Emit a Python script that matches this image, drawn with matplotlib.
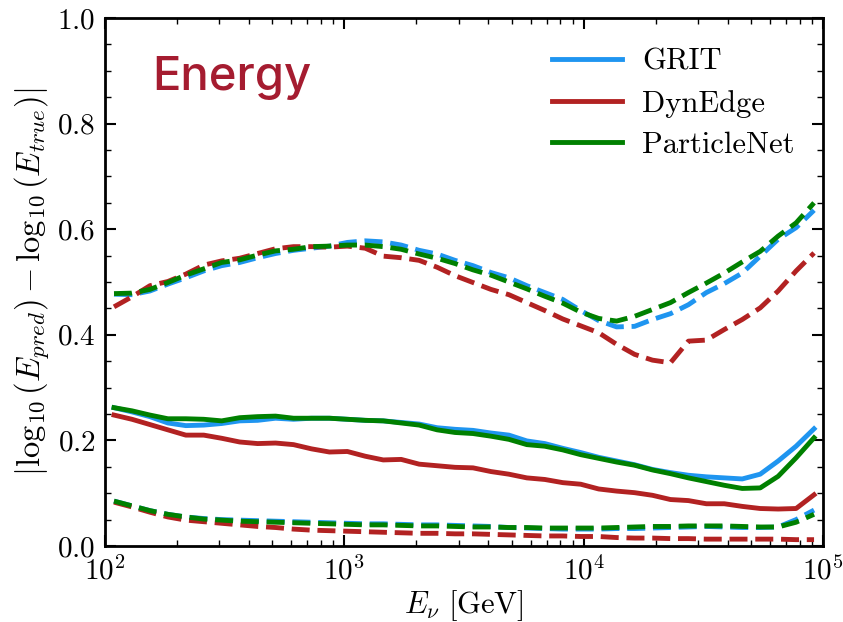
import numpy as np
import matplotlib
matplotlib.use("Agg")
import matplotlib.pyplot as plt

plt.rcParams.update({
    "font.family": "serif",
    "font.serif": ["cmr10"],
    "mathtext.fontset": "cm",
    "axes.formatter.use_mathtext": True,
    "axes.unicode_minus": False,
})

# log10(E/GeV) bins: 40 equal-width bins from 10^2 to 10^5
bin_edges = np.linspace(2.0, 5.0, 41)
log_e = 0.5 * (bin_edges[:-1] + bin_edges[1:])
energy = 10 ** log_e

# Median resolution (solid) per model
grit_med = [0.262, 0.254, 0.245, 0.233, 0.228, 0.229, 0.232, 0.237, 0.238, 0.242,
            0.240, 0.242, 0.242, 0.240, 0.238, 0.237, 0.234, 0.231, 0.224, 0.221,
            0.219, 0.214, 0.210, 0.199, 0.194, 0.185, 0.177, 0.168, 0.161, 0.154,
            0.145, 0.139, 0.134, 0.131, 0.129, 0.127, 0.136, 0.161, 0.189, 0.222]
dyn_med = [0.248, 0.240, 0.230, 0.220, 0.210, 0.210, 0.204, 0.197, 0.194, 0.195,
           0.192, 0.184, 0.178, 0.179, 0.170, 0.163, 0.164, 0.155, 0.152, 0.149,
           0.148, 0.141, 0.136, 0.129, 0.126, 0.120, 0.117, 0.108, 0.104, 0.101,
           0.096, 0.088, 0.086, 0.080, 0.080, 0.075, 0.071, 0.070, 0.071, 0.097]
pn_med = [0.262, 0.256, 0.248, 0.241, 0.241, 0.240, 0.237, 0.243, 0.245, 0.246,
          0.242, 0.242, 0.242, 0.240, 0.238, 0.237, 0.233, 0.229, 0.220, 0.215,
          0.213, 0.208, 0.202, 0.192, 0.189, 0.182, 0.173, 0.166, 0.159, 0.153,
          0.144, 0.137, 0.129, 0.122, 0.115, 0.109, 0.110, 0.132, 0.167, 0.205]

# Upper quantile (dashed)
grit_hi = [0.477, 0.476, 0.483, 0.496, 0.508, 0.521, 0.531, 0.537, 0.546, 0.554,
           0.560, 0.564, 0.568, 0.575, 0.578, 0.576, 0.570, 0.560, 0.553, 0.541,
           0.531, 0.518, 0.508, 0.493, 0.480, 0.467, 0.446, 0.427, 0.415, 0.416,
           0.429, 0.440, 0.457, 0.480, 0.497, 0.517, 0.549, 0.581, 0.603, 0.636]
dyn_hi = [0.453, 0.472, 0.493, 0.501, 0.515, 0.532, 0.540, 0.545, 0.554, 0.563,
          0.567, 0.567, 0.566, 0.568, 0.564, 0.549, 0.546, 0.541, 0.528, 0.512,
          0.499, 0.486, 0.476, 0.461, 0.446, 0.430, 0.417, 0.404, 0.382, 0.363,
          0.352, 0.347, 0.388, 0.390, 0.410, 0.429, 0.451, 0.483, 0.521, 0.555]
pn_hi = [0.478, 0.479, 0.486, 0.499, 0.513, 0.525, 0.537, 0.542, 0.551, 0.559,
         0.562, 0.567, 0.568, 0.570, 0.570, 0.567, 0.562, 0.553, 0.545, 0.535,
         0.523, 0.513, 0.500, 0.487, 0.473, 0.460, 0.443, 0.431, 0.426, 0.435,
         0.448, 0.461, 0.480, 0.498, 0.517, 0.538, 0.558, 0.587, 0.612, 0.650]

# Lower quantile (dashed)
grit_lo = [0.085, 0.076, 0.067, 0.060, 0.055, 0.052, 0.050, 0.049, 0.048, 0.047,
           0.046, 0.045, 0.044, 0.043, 0.042, 0.042, 0.041, 0.040, 0.040, 0.039,
           0.038, 0.037, 0.035, 0.034, 0.033, 0.032, 0.032, 0.032, 0.033, 0.033,
           0.034, 0.035, 0.036, 0.037, 0.036, 0.035, 0.035, 0.036, 0.050, 0.068]
dyn_lo = [0.083, 0.074, 0.064, 0.055, 0.049, 0.046, 0.043, 0.040, 0.037, 0.035,
          0.032, 0.030, 0.029, 0.028, 0.027, 0.026, 0.025, 0.024, 0.024, 0.023,
          0.023, 0.022, 0.021, 0.020, 0.019, 0.019, 0.018, 0.018, 0.016, 0.015,
          0.015, 0.014, 0.014, 0.013, 0.013, 0.013, 0.013, 0.013, 0.012, 0.012]
pn_lo = [0.085, 0.076, 0.067, 0.060, 0.055, 0.051, 0.049, 0.047, 0.046, 0.045,
         0.044, 0.043, 0.042, 0.041, 0.040, 0.040, 0.039, 0.038, 0.038, 0.037,
         0.036, 0.036, 0.035, 0.035, 0.034, 0.034, 0.034, 0.034, 0.035, 0.036,
         0.037, 0.037, 0.038, 0.038, 0.038, 0.037, 0.036, 0.036, 0.045, 0.060]

models = [
    ("GRIT", "#1f95f0", grit_med, grit_lo, grit_hi),
    ("DynEdge", "#b22222", dyn_med, dyn_lo, dyn_hi),
    ("ParticleNet", "#008000", pn_med, pn_lo, pn_hi),
]

fig = plt.figure(figsize=(8.43, 6.22), dpi=100)
ax = fig.add_axes([0.1246, 0.1222, 0.8517, 0.8488])

lw = 3.5
for name, color, med, lo, hi in models:
    ax.plot(energy, med, color=color, lw=lw, label=name)
    ax.plot(energy, hi, color=color, lw=lw, ls="--")
    ax.plot(energy, lo, color=color, lw=lw, ls="--")

ax.set_xscale("log")
ax.set_xlim(1e2, 1e5)
ax.set_ylim(0.0, 1.0)
ax.set_yticks([0.0, 0.2, 0.4, 0.6, 0.8, 1.0])
ax.set_yticks(np.arange(0.0, 1.0001, 0.05), minor=True)

ax.tick_params(which="both", direction="in", top=True, right=True, labelsize=21)
ax.tick_params(which="major", length=8, width=1.5, pad=7)
ax.tick_params(which="minor", length=4, width=1.0)
for sp in ax.spines.values():
    sp.set_linewidth(2.0)

ax.set_xlabel(r"$E_{\nu}\ [\mathrm{GeV}]$", fontsize=22, labelpad=2)
ax.set_ylabel(r"$|\log_{10}(E_{pred}) - \log_{10}(E_{true})|$", fontsize=23.5, labelpad=4)

ax.text(0.0655, 0.864, "Energy", transform=ax.transAxes, fontsize=34,
        family="Inter", weight="medium", color="#a51c30", ha="left", va="baseline")

leg = ax.legend(loc="upper right", frameon=False, fontsize=22,
                handlelength=2.3, handletextpad=0.65, labelspacing=0.45,
                borderaxespad=0.3, bbox_to_anchor=(0.990, 0.983))

fig.savefig("out.png", dpi=100)
